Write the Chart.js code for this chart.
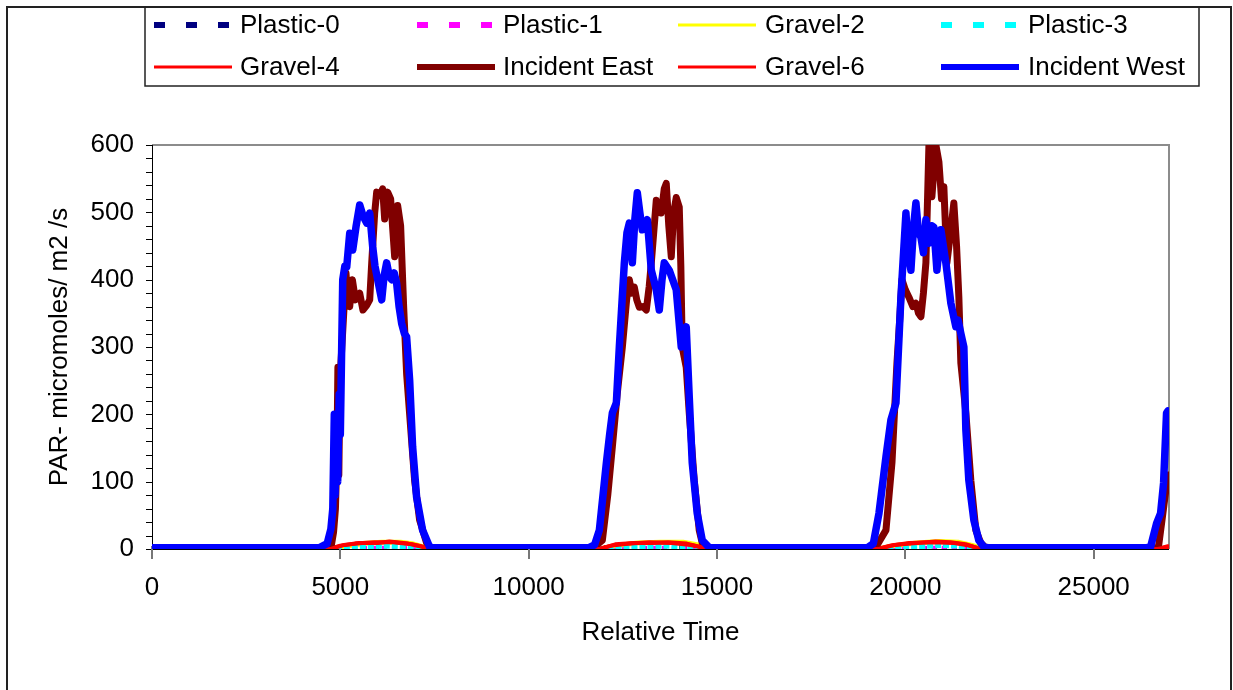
<!DOCTYPE html>
<html>
<head>
<meta charset="utf-8">
<script src="https://cdn.jsdelivr.net/npm/chart.js@4.4.0/dist/chart.umd.min.js"></script>
<style>
  html, body { margin: 0; padding: 0; background: #fff; }
  #wrap { width: 1233px; height: 690px; position: relative; }
</style>
</head>
<body>
<div id="wrap"><canvas id="par-chart"></canvas></div>
<script>
// PAR readings vs relative time

const seriesNames = ['Plastic-0', 'Plastic-1', 'Gravel-2', 'Plastic-3', 'Gravel-4', 'Incident East', 'Gravel-6', 'Incident West'];
const xTickValues = [0, 5000, 10000, 15000, 20000, 25000];
const yTickValues = [0, 100, 200, 300, 400, 500, 600];

const plastic0 = [[0, 0], [4800, 0], [5500, 1], [6500, 1], [7300, 0], [12000, 0], [13000, 1], [14000, 1], [14700, 0],
    [19400, 0], [20500, 1], [21500, 1], [22000, 0], [27000, 0]];

const plastic1 = [[0, 0], [4800, 0], [5300, 2], [6200, 2], [6900, 2], [7300, 0], [11950, 0], [12500, 2], [13500, 2],
    [14400, 2], [14700, 0], [19350, 0], [19900, 2], [20800, 2], [21600, 2], [22000, 0], [26800, 0], [27000, 1]];

const gravel2 = [[0, 0], [4750, 0], [5100, 4], [5600, 8], [6100, 10], [6600, 10], [6900, 8], [7200, 3], [7400, 0],
    [11900, 0], [12300, 5], [12900, 9], [13500, 10], [14100, 10], [14500, 6], [14750, 1], [14850, 0],
    [19300, 0], [19700, 5], [20300, 9], [20900, 11], [21400, 10], [21800, 5], [22050, 0], [26800, 0], [26970, 2]];

const plastic3 = [[0, 0], [4850, 0], [5200, 3], [5700, 4], [6300, 5], [6800, 4], [7100, 2], [7300, 0],
    [12000, 0], [12400, 3], [13000, 4], [13600, 5], [14100, 4], [14500, 1], [14650, 0],
    [19400, 0], [19800, 3], [20400, 4], [20900, 6], [21400, 5], [21800, 2], [21950, 0], [27000, 0]];

const gravel4 = [[0, 0], [4700, 0], [5000, 5], [5400, 8], [5900, 10], [6400, 10], [6900, 7], [7200, 3], [7400, 0],
    [11850, 0], [12200, 5], [12700, 8], [13200, 10], [13800, 9], [14300, 6], [14700, 1], [14850, 0],
    [19250, 0], [19600, 5], [20100, 9], [20700, 10], [21300, 9], [21700, 5], [22000, 0], [26700, 0], [26970, 4]];

const incidentEast = [[0, 1], [4650, 1], [4760, 5], [4820, 25], [4870, 60], [4910, 140], [4935, 270], [4960, 110],
    [4990, 250], [5040, 300], [5090, 350], [5150, 410], [5200, 370], [5249, 360], [5320, 400], [5400, 370],
    [5514, 380], [5600, 355], [5700, 362], [5780, 370], [5833, 425], [5912, 499], [5965, 530], [6050, 525],
    [6124, 535], [6177, 490], [6257, 530], [6336, 520], [6442, 434], [6522, 510], [6601, 480], [6681, 360],
    [6760, 260], [6840, 200], [6972, 102], [7105, 43], [7290, 9], [7400, 1],
    [11700, 1], [11956, 13], [12100, 80], [12222, 152], [12350, 230], [12487, 300], [12600, 370], [12672, 400],
    [12740, 380], [12805, 389], [12870, 370], [12938, 359], [13030, 360], [13123, 355], [13200, 390], [13256, 425],
    [13388, 518], [13450, 500], [13521, 499], [13600, 535], [13653, 543], [13720, 480], [13786, 434], [13850, 500],
    [13918, 522], [13998, 508], [14040, 420], [14077, 300], [14183, 270], [14263, 202], [14396, 102], [14528, 28],
    [14608, 9], [14750, 1],
    [19200, 1], [19486, 28], [19645, 128], [19777, 276], [19850, 340], [19910, 400], [20000, 385], [20095, 374],
    [20200, 360], [20281, 365], [20350, 350], [20414, 345], [20480, 380], [20546, 425], [20626, 599], [20705, 523],
    [20811, 600], [20891, 575], [20960, 520], [21023, 538], [21103, 425], [21200, 470], [21288, 514], [21360, 450],
    [21421, 374], [21474, 276], [21540, 240], [21607, 202], [21739, 102], [21872, 28], [22004, 9], [22150, 1],
    [26600, 1], [26720, 3], [26803, 38], [26900, 80], [26970, 110]];

const gravel6 = [[0, 0], [4750, 0], [5100, 6], [5500, 9], [6000, 9], [6300, 11], [6800, 8], [7150, 4], [7350, 0],
    [11900, 0], [12300, 7], [12800, 9], [13300, 9], [13700, 10], [14200, 8], [14650, 2], [14800, 0],
    [19300, 0], [19700, 6], [20300, 9], [20800, 11], [21200, 10], [21600, 7], [21950, 1], [22050, 0],
    [26700, 0], [26970, 3]];

const incidentWest = [[0, 2], [4450, 2], [4650, 8], [4750, 30], [4800, 60], [4840, 200], [4860, 80], [4900, 190],
    [4930, 100], [4970, 230], [5000, 170], [5064, 400], [5120, 420], [5170, 419], [5249, 469], [5329, 444],
    [5420, 480], [5514, 511], [5600, 495], [5700, 484], [5780, 499], [5859, 449], [5920, 420], [5992, 400],
    [6098, 370], [6160, 405], [6230, 425], [6300, 405], [6363, 400], [6430, 410], [6495, 395], [6560, 360],
    [6628, 335], [6700, 320], [6760, 315], [6840, 251], [6919, 152], [7025, 77], [7184, 28], [7370, 3], [7450, 2],
    [11600, 2], [11750, 6], [11877, 28], [12063, 128], [12150, 170], [12222, 202], [12328, 217], [12407, 300],
    [12540, 425], [12610, 470], [12672, 484], [12752, 425], [12820, 490], [12884, 529], [12950, 500], [13017, 474],
    [13150, 489], [13256, 414], [13388, 385], [13468, 355], [13540, 400], [13600, 425], [13733, 414], [13918, 385],
    [14051, 300], [14183, 330], [14263, 226], [14343, 128], [14475, 53], [14608, 13], [14793, 2],
    [19000, 2], [19150, 8], [19300, 53], [19486, 137], [19618, 192], [19751, 217], [19883, 374], [20016, 499],
    [20080, 440], [20148, 414], [20220, 480], [20281, 514], [20350, 470], [20414, 463], [20480, 440], [20546, 489],
    [20626, 454], [20700, 480], [20758, 478], [20838, 414], [20944, 474], [21076, 425], [21209, 365], [21341, 330],
    [21400, 340], [21474, 320], [21554, 300], [21607, 177], [21686, 102], [21819, 43], [21951, 13], [22084, 3],
    [22200, 2], [26400, 2], [26511, 3], [26670, 38], [26776, 53], [26856, 98], [26935, 202], [26970, 205]];

const FONT = "'Liberation Sans', Arial, sans-serif";

const toXY = pts => pts.map(p => ({ x: p[0], y: p[1] }));

function makeSet(i, pts, color, width, dash, legendWidth) {
    return {
        label: seriesNames[i],
        data: toXY(pts),
        borderColor: color,
        backgroundColor: color,
        borderWidth: width,
        borderDash: dash || [],
        borderJoinStyle: 'round',
        borderCapStyle: dash ? 'butt' : 'round',
        pointRadius: 0,
        tension: 0,
        fill: false,
        order: 7 - i,
        legendWidth: legendWidth,
        legendDash: dash ? [11, 21] : [],
    };
}

const datasets = [
    makeSet(0, plastic0, '#000080', 4, [5, 5], 6),
    makeSet(1, plastic1, '#ff00ff', 4, [5, 5], 6),
    makeSet(2, gravel2, '#ffff00', 5, null, 3),
    makeSet(3, plastic3, '#00ffff', 6, [6, 2], 6),
    makeSet(4, gravel4, '#ff0000', 4, null, 3),
    makeSet(5, incidentEast, '#800000', 7, null, 6),
    makeSet(6, gravel6, '#ff0000', 4, null, 3),
    makeSet(7, incidentWest, '#0000ff', 7.5, null, 6),
];

// plot frame + tick marks, drawn under the lines
const frameAndTicks = {
    id: 'frameAndTicks',
    beforeDatasetsDraw(chart) {
        const { ctx, chartArea: a, scales: { x, y } } = chart;
        ctx.save();
        ctx.strokeStyle = '#8c8c8c';
        ctx.lineWidth = 2;
        ctx.beginPath();
        ctx.moveTo(a.left, a.top);
        ctx.lineTo(a.right, a.top);
        ctx.lineTo(a.right, a.bottom);
        ctx.stroke();

        ctx.strokeStyle = '#000';
        ctx.lineWidth = 1;
        ctx.beginPath();
        ctx.moveTo(a.left + 0.5, a.top);
        ctx.lineTo(a.left + 0.5, a.bottom);
        ctx.moveTo(a.left, a.bottom + 0.5);
        ctx.lineTo(a.right, a.bottom + 0.5);
        for (let v = 0; v <= 600; v += 20) {
            const py = Math.round(y.getPixelForValue(v)) + 0.5;
            ctx.moveTo(a.left - 6, py);
            ctx.lineTo(a.left + 1, py);
        }
        for (let v = 1000; v < 27000; v += 1000) {
            if (v % 5000 === 0) continue;
            const px = Math.round(x.getPixelForValue(v)) + 0.5;
            ctx.moveTo(px, a.bottom);
            ctx.lineTo(px, a.bottom - 4);
        }
        ctx.stroke();

        ctx.strokeStyle = '#777';
        ctx.lineWidth = 2;
        ctx.beginPath();
        xTickValues.forEach(v => {
            const px = Math.round(x.getPixelForValue(v));
            ctx.moveTo(px, a.bottom - 3);
            ctx.lineTo(px, a.bottom + 10);
        });
        ctx.stroke();
        ctx.restore();
    }
};

// outer border and the boxed two-row legend
const boxLegend = {
    id: 'boxLegend',
    afterDraw(chart) {
        const ctx = chart.ctx;
        const sets = chart.data.datasets;
        const sampleX = [154, 417, 678, 941];
        const textX = [240, 503, 765, 1028];
        const rowY = [25, 67];
        ctx.save();
        ctx.strokeStyle = '#222';
        ctx.lineWidth = 2;
        ctx.strokeRect(7, 7, 1224, 720);
        ctx.lineWidth = 1.5;
        ctx.strokeRect(145, 7, 1054, 79);

        ctx.font = '26px ' + FONT;
        ctx.textBaseline = 'middle';
        ctx.textAlign = 'left';
        sets.forEach((ds, i) => {
            const col = i % 4, row = Math.floor(i / 4);
            const yy = rowY[row];
            ctx.strokeStyle = ds.borderColor;
            ctx.lineWidth = ds.legendWidth;
            ctx.setLineDash(ds.legendDash);
            ctx.lineCap = 'butt';
            ctx.beginPath();
            ctx.moveTo(sampleX[col], yy);
            ctx.lineTo(sampleX[col] + 78, yy);
            ctx.stroke();
            ctx.setLineDash([]);
            ctx.fillStyle = '#000';
            ctx.fillText(ds.label, textX[col], yy + 1);
        });
        ctx.restore();
    }
};

const ctx = document.getElementById('par-chart').getContext('2d');

new Chart(ctx, {
    type: 'line',
    data: { datasets: datasets },
    options: {
        responsive: true,
        maintainAspectRatio: false,
        animation: false,
        devicePixelRatio: 1,
        layout: { padding: { top: 145, right: 64, left: 0, bottom: 0 } },
        plugins: {
            legend: { display: false },
            tooltip: { enabled: false },
        },
        scales: {
            x: {
                type: 'linear',
                min: 0,
                max: 27000,
                grid: { display: false, drawTicks: false },
                border: { display: false },
                afterBuildTicks(scale) {
                    scale.ticks = xTickValues.map(v => ({ value: v }));
                },
                ticks: {
                    autoSkip: false,
                    maxRotation: 0,
                    padding: 23,
                    color: '#000',
                    font: { family: FONT, size: 26 },
                    callback: v => String(v),
                },
                title: {
                    display: true,
                    text: 'Relative Time',
                    color: '#000',
                    font: { family: FONT, size: 26 },
                    padding: { top: 0, bottom: 42 },
                },
                afterFit(scale) { scale.height = 141; },
            },
            y: {
                min: 0,
                max: 600,
                grid: { display: false, drawTicks: false },
                border: { display: false },
                afterBuildTicks(scale) {
                    scale.ticks = yTickValues.map(v => ({ value: v }));
                },
                ticks: {
                    autoSkip: false,
                    padding: 18,
                    color: '#000',
                    font: { family: FONT, size: 26 },
                    callback: v => String(v),
                },
                title: {
                    display: true,
                    text: 'PAR- micromoles/ m2 /s',
                    color: '#000',
                    font: { family: FONT, size: 26 },
                    padding: { top: 44, bottom: 0 },
                },
                afterFit(scale) { scale.width = 152; },
            },
        },
    },
    plugins: [frameAndTicks, boxLegend],
});
</script>
</body>
</html>
